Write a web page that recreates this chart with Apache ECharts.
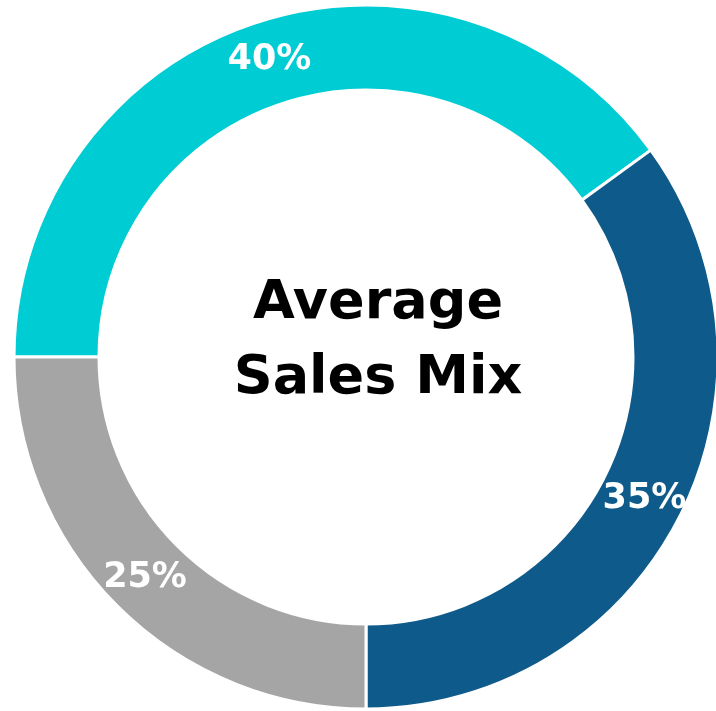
<!DOCTYPE html>
<html>
<head>
<meta charset="utf-8">
<script src="https://cdn.jsdelivr.net/npm/echarts@6/dist/echarts.min.js"></script>
<style>
  html, body { margin: 0; padding: 0; background: #fff; }
  #chart { width: 716px; height: 711px; }
</style>
</head>
<body>
<div id="chart"></div>
<script>
  const categories = ['Segment A', 'Segment B', 'Segment C']
  const shares = [40, 35, 25]
  const colors = ['#00CCD3', '#0E5A8A', '#A5A5A5']

  const chart = echarts.init(document.getElementById('chart'))
  chart.setOption({
    animation: false,
    title: {
      text: 'Average\nSales Mix',
      left: 373,
      top: 336,
      textAlign: 'center',
      textVerticalAlign: 'middle',
      textStyle: {
        fontFamily: 'DejaVu Sans',
        fontWeight: 'bold',
        fontSize: 54,
        lineHeight: 75,
        color: '#000',
      },
    },
    series: [
      {
        type: 'pie',
        center: [366, 357],
        radius: [267, 352],
        startAngle: 180,
        clockwise: true,
        silent: true,
        itemStyle: {
          borderColor: '#fff',
          borderWidth: 3,
        },
        label: {
          show: true,
          position: 'inside',
          formatter: '{c}%',
          color: '#fff',
          fontFamily: 'DejaVu Sans',
          fontWeight: 'bold',
          fontSize: 35,
        },
        labelLine: { show: false },
        data: categories.map((name, i) => ({
          name,
          value: shares[i],
          itemStyle: { color: colors[i] },
        })),
      },
    ],
  })
</script>
</body>
</html>
